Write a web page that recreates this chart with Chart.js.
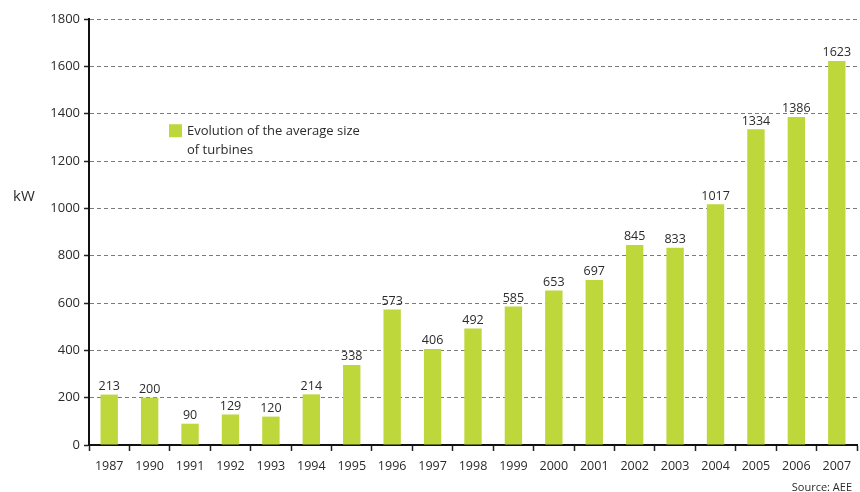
<!DOCTYPE html>
<html>
<head>
<meta charset="utf-8">
<script src="https://cdn.jsdelivr.net/npm/chart.js@4"></script>
<style>
html,body{margin:0;padding:0;background:#fff;}
#wrap{width:860px;height:492px;position:relative;}
</style>
</head>
<body>
<div id="wrap"><canvas id="c" width="860" height="492"></canvas></div>
<script>
const years = ['1987','1990','1991','1992','1993','1994','1995','1996','1997','1998','1999','2000','2001','2002','2003','2004','2005','2006','2007'];
const avgSize = [213,200,90,129,120,214,338,573,406,492,585,653,697,845,833,1017,1334,1386,1623];
const legendLines = ['Evolution of the average size','of turbines'];
const unitLabel = 'kW';
const sourceLabel = 'Source: AEE';

const FONT = '"Open Sans", "Noto Sans", sans-serif';
const TXT = '#2b2b2b';
const BAR = '#bed73b';

const extras = {
  id: 'extras',
  afterDatasetsDraw(chart) {
    const ctx = chart.ctx;
    const meta = chart.getDatasetMeta(0);
    ctx.save();
    ctx.fillStyle = TXT;
    ctx.font = '12.5px ' + FONT;
    ctx.textAlign = 'center';
    ctx.textBaseline = 'bottom';
    meta.data.forEach((bar, i) => {
      ctx.fillText(String(avgSize[i]), bar.x, bar.y - 2);
    });
    // unit label
    const y = chart.scales.y;
    ctx.font = '15px ' + FONT;
    ctx.textAlign = 'left';
    ctx.textBaseline = 'middle';
    ctx.fillText(unitLabel, 13, y.getPixelForValue(1050));
    // legend
    const ca = chart.chartArea;
    const lx = ca.left + 80, ly = y.getPixelForValue(1330);
    ctx.fillStyle = BAR;
    ctx.fillRect(lx, ly - 6, 13, 13);
    ctx.fillStyle = TXT;
    ctx.font = '13px ' + FONT;
    ctx.fillText(legendLines[0], lx + 18, ly + 1);
    ctx.fillText(legendLines[1], lx + 18, ly + 20);
    // source
    ctx.font = '11px ' + FONT;
    ctx.textAlign = 'right';
    ctx.textBaseline = 'alphabetic';
    ctx.fillText(sourceLabel, ca.right - 5, 491);
    ctx.restore();
  }
};

new Chart(document.getElementById('c'), {
  type: 'bar',
  data: {
    labels: years,
    datasets: [{
      data: avgSize,
      backgroundColor: BAR,
      borderWidth: 0,
      barPercentage: 0.43,
      categoryPercentage: 1.0
    }]
  },
  options: {
    responsive: false,
    animation: false,
    devicePixelRatio: 1,
    layout: { padding: { left: 0, right: 3, top: 19, bottom: 0 } },
    plugins: { legend: { display: false }, tooltip: { enabled: false } },
    scales: {
      x: {
        afterFit(s) { s.height = 47; },
        grid: {
          display: true,
          drawOnChartArea: false,
          drawTicks: true,
          tickLength: 6,
          tickColor: '#222',
          tickWidth: 1.5,
          offset: true
        },
        border: { display: true, color: '#111', width: 2 },
        ticks: {
          color: TXT,
          font: { family: FONT, size: 12.5 },
          padding: 8,
          maxRotation: 0,
          autoSkip: false
        }
      },
      y: {
        min: 0,
        max: 1800,
        afterFit(s) { s.width = 89; },
        grid: {
          color: '#7a7a7a',
          lineWidth: 1,
          drawTicks: true,
          tickLength: 5,
          tickColor: '#222',
          tickBorderDash: [],
          tickWidth: 1.5
        },
        border: { display: true, color: '#111', width: 2, dash: [4, 3] },
        ticks: {
          stepSize: 200,
          color: TXT,
          font: { family: FONT, size: 13 },
          padding: 4,
          callback: (v) => String(v)
        }
      }
    }
  },
  plugins: [extras]
});
</script>
</body>
</html>
